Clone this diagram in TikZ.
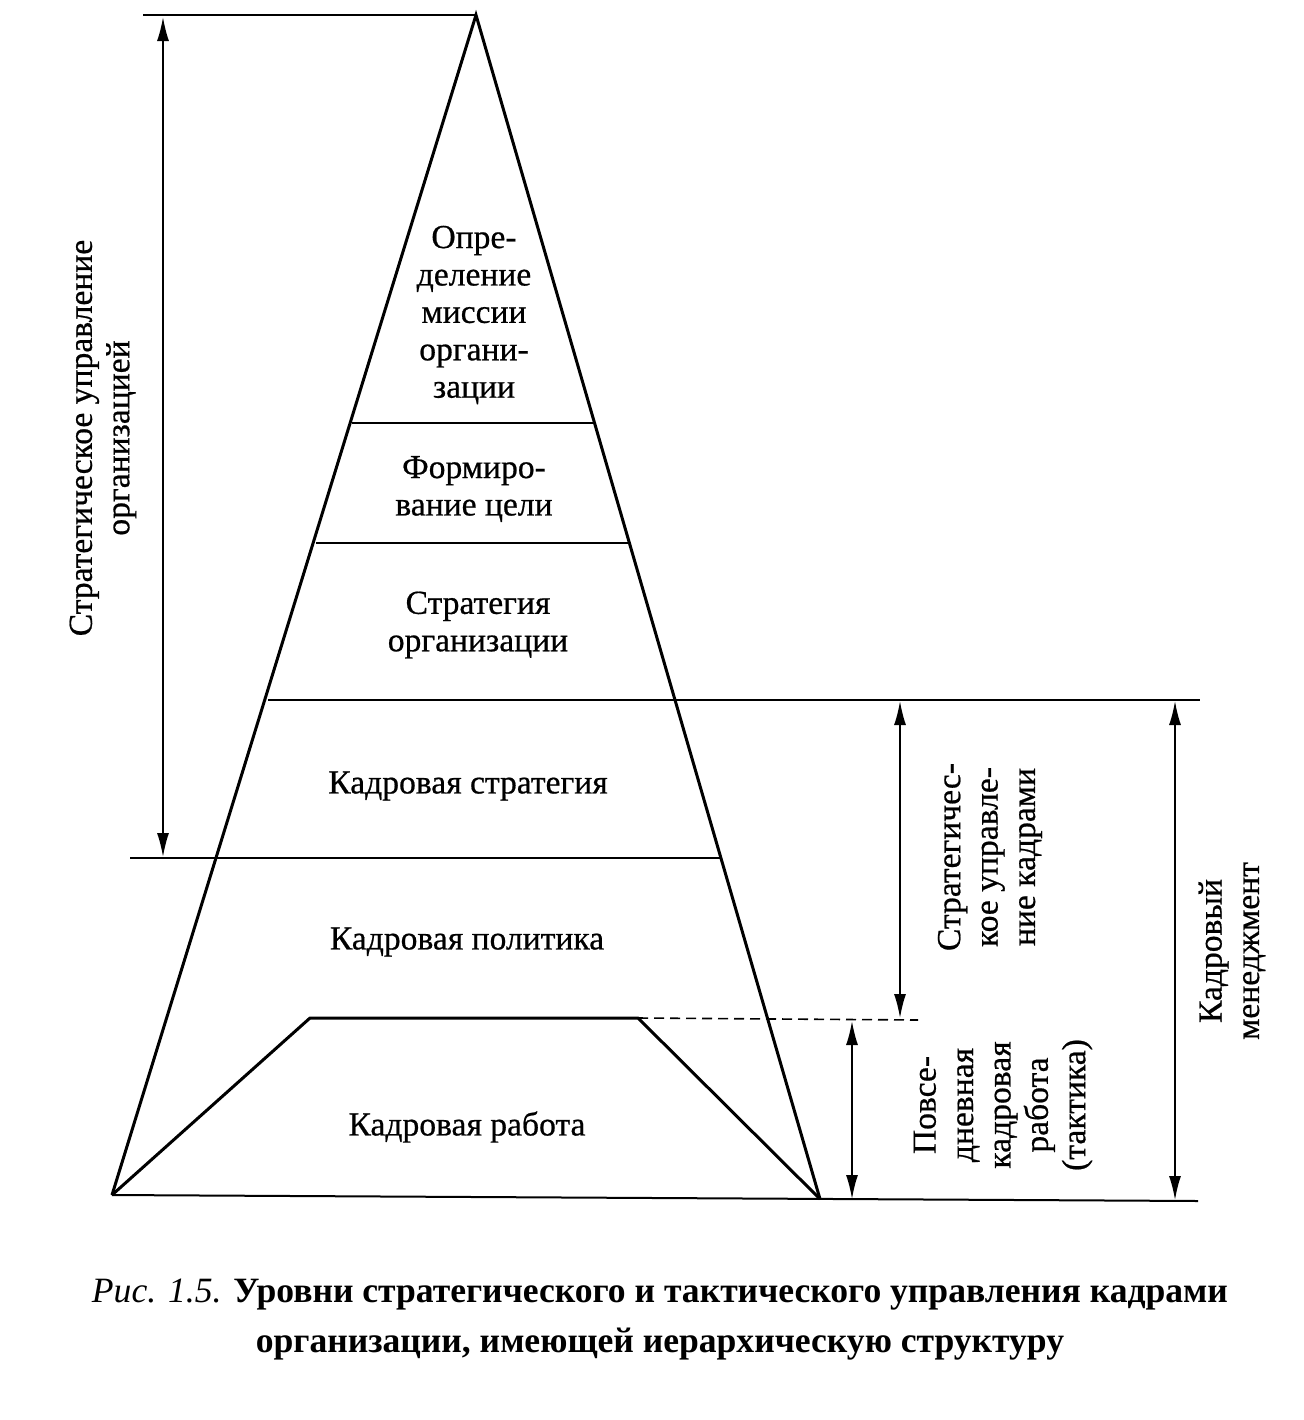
\documentclass[tikz,border=0pt]{standalone}
\usepackage{fontspec}
\setmainfont{Liberation Serif}
\newfontfamily\heavyfont[FakeBold=0.6]{Liberation Serif}
\usetikzlibrary{arrows.meta}
\begin{document}
\begin{tikzpicture}[x=0.5pt,y=-0.5pt,
  thickl/.style={line width=1.5pt},
  hline/.style={line width=1pt},
  dim/.style={line width=0.8pt,{Latex[length=12pt,width=6pt]}-{Latex[length=12pt,width=6pt]}},
  lbl/.style={font=\heavyfont\fontsize{16.8}{18.7}\selectfont,align=center,inner sep=0pt},
  side/.style={lbl,rotate=90}]
\useasboundingbox (0,0) rectangle (1304,1420);
% key points
\coordinate (apex) at (476,15);
\coordinate (bl) at (112,1195);
\coordinate (br) at (820,1199);
\coordinate (tl) at (143,15);
\coordinate (baseR) at (1198,1201);
\coordinate (tpl) at (310,1018);
\coordinate (tpr) at (638,1018);
\coordinate (dashR) at (918,1020);
\coordinate (l700L) at (268,700);
\coordinate (l700R) at (1200,700);
\coordinate (l858L) at (130,858);
\coordinate (l858R) at (722,858);
\coordinate (l543L) at (316,543);
\coordinate (l543R) at (628,543);
\coordinate (l423L) at (352,423);
\coordinate (l423R) at (596,423);
% pyramid
\draw[thickl,line join=miter] (bl) -- (apex) -- (br);
\draw[thickl,line join=round] (bl) -- (tpl) -- (tpr) -- (br);
\draw[hline] (tl) -- (apex);
\draw[hline] (bl) -- (baseR);
\draw[hline] (l423L) -- (l423R);
\draw[hline] (l543L) -- (l543R);
\draw[hline] (l700L) -- (l700R);
\draw[hline] (l858L) -- (l858R);
\draw[line width=0.8pt,dash pattern=on 5pt off 3pt] (tpr) -- (dashR);
% dimension arrows
\coordinate (a1t) at (163,17);
\coordinate (a1b) at (163,857);
\draw[dim] (a1t) -- (a1b);
\coordinate (a2t) at (900,701);
\coordinate (a2b) at (900,1018);
\draw[dim] (a2t) -- (a2b);
\coordinate (a3t) at (852,1021);
\coordinate (a3b) at (852,1199);
\draw[dim] (a3t) -- (a3b);
\coordinate (a4t) at (1175,701);
\coordinate (a4b) at (1175,1200);
\draw[dim] (a4t) -- (a4b);
% labels
\node[lbl] (mis) at (474,315) {Опре-\\деление\\миссии\\органи-\\зации};
\node[lbl] (goal) at (474,489) {Формиро-\\вание цели};
\node[lbl] (strat) at (478,625) {Стратегия\\организации};
\node[lbl] (ks) at (468,786) {Кадровая стратегия};
\node[lbl] (kp) at (467,942) {Кадровая политика};
\node[lbl] (kr) at (467,1127) {Кадровая работа};
\node[side] (sorg) at (103,438) {Стратегическое управление\\организацией};
\node[side] (skad) at (990,857) {Стратегичес-\\кое управле-\\ние кадрами};
\node[side] (povs) at (1003,1105) {Повсе-\\дневная\\кадровая\\работа\\(тактика)};
\node[side] (km) at (1232,951) {Кадровый\\менеджмент};
\node[lbl,font=\fontsize{17.8}{25}\selectfont] (cap) at (660,1320) {\textit{Рис. 1.5.} \textbf{Уровни стратегического и тактического управления кадрами}\\\textbf{организации, имеющей иерархическую структуру}};
\end{tikzpicture}
\end{document}
